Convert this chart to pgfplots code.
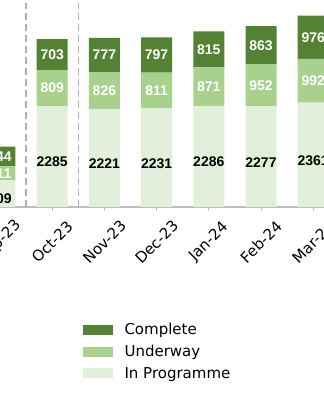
\documentclass[border=0pt]{standalone}
\usepackage{fontspec}
\setmainfont{DejaVu Sans}
\newfontfamily\barfont{Liberation Sans}
\usepackage{pgfplots}
\pgfplotsset{compat=1.18}
\definecolor{cComp}{HTML}{548235}
\definecolor{cUnd}{HTML}{A9D18E}
\definecolor{cProg}{HTML}{E2EFDA}
\definecolor{cAxis}{HTML}{BFBFBF}
\definecolor{cDash}{HTML}{B0B0B0}
\begin{document}
\begin{tikzpicture}
\useasboundingbox (0,0) rectangle (324bp,400bp);
\clip (0,0) rectangle (324bp,400bp);
\begin{axis}[
  at={(-52.2bp,193bp)}, anchor=south west,
  scale only axis, width=417.6bp, height=204.2bp,
  xmin=-1, xmax=7, ymin=0, ymax=4620,
  ybar stacked, bar width=31bp,
  axis x line=bottom, axis y line=none,
  x axis line style={cAxis, line width=1.2bp, -},
  xtick={0,...,6},
  xticklabels={Sep-23,Oct-23,Nov-23,Dec-23,Jan-24,Feb-24,Mar-24},
  tick align=outside, major tick length=4bp,
  tick style={cAxis, line width=1bp},
  xticklabel style={yshift=-31bp, rotate=45, anchor=center, font=\fontsize{15bp}{18bp}\selectfont},
  reverse legend,
  legend style={at={(0.315,-0.55)}, anchor=north west, draw=none, fill=none,
    font=\fontsize{15bp}{18bp}\selectfont, row sep=5bp,
    /tikz/every odd column/.append style={column sep=10bp}},
  legend cell align=left,
  legend image code/.code={\draw[#1,/tikz/.cd,draw=none] (0bp,-5bp) rectangle (30bp,5bp);},
]
\addplot[fill=cProg, draw=none] coordinates {(0,609) (1,2285) (2,2221) (3,2231) (4,2286) (5,2277) (6,2361)};
\addplot[fill=cUnd, draw=none] coordinates {(0,311) (1,809) (2,826) (3,811) (4,871) (5,952) (6,992)};
\addplot[fill=cComp, draw=none] coordinates {(0,444) (1,703) (2,777) (3,797) (4,815) (5,863) (6,976)};
\legend{In Programme, Underway, Complete}
\draw[cDash, line width=1.5bp, dash pattern=on 7bp off 4bp] (axis cs:0.5,0) -- (axis cs:0.5,4620);
\draw[cDash, line width=1.5bp, dash pattern=on 7bp off 4bp] (axis cs:1.5,0) -- (axis cs:1.5,4620);
\end{axis}
\begin{axis}[
  at={(-52.2bp,193bp)}, anchor=south west,
  scale only axis, width=417.6bp, height=204.2bp,
  xmin=-1, xmax=7, ymin=0, ymax=4620,
  hide axis, clip=false,
  point meta=explicit symbolic,
]
\addplot[only marks, mark=none, nodes near coords,
  every node near coord/.style={font=\barfont\bfseries\fontsize{14bp}{16bp}\selectfont, anchor=center, text=black, yshift=-5.5bp}]
  coordinates {(0,304.5)[609] (1,1142.5)[2285] (2,1110.5)[2221] (3,1115.5)[2231] (4,1143)[2286] (5,1138.5)[2277] (6,1180.5)[2361]};
\addplot[only marks, mark=none, nodes near coords,
  every node near coord/.style={font=\barfont\bfseries\fontsize{14bp}{16bp}\selectfont, anchor=center, text=white}]
  coordinates {(0,764.5)[311] (1,2689.5)[809] (2,2634)[826] (3,2636.5)[811] (4,2721.5)[871] (5,2753)[952] (6,2857)[992]};
\addplot[only marks, mark=none, nodes near coords,
  every node near coord/.style={font=\barfont\bfseries\fontsize{14bp}{16bp}\selectfont, anchor=center, text=white}]
  coordinates {(0,1142)[444] (1,3445.5)[703] (2,3435.5)[777] (3,3440.5)[797] (4,3564.5)[815] (5,3660.5)[863] (6,3841)[976]};
\end{axis}
\end{tikzpicture}
\end{document}
